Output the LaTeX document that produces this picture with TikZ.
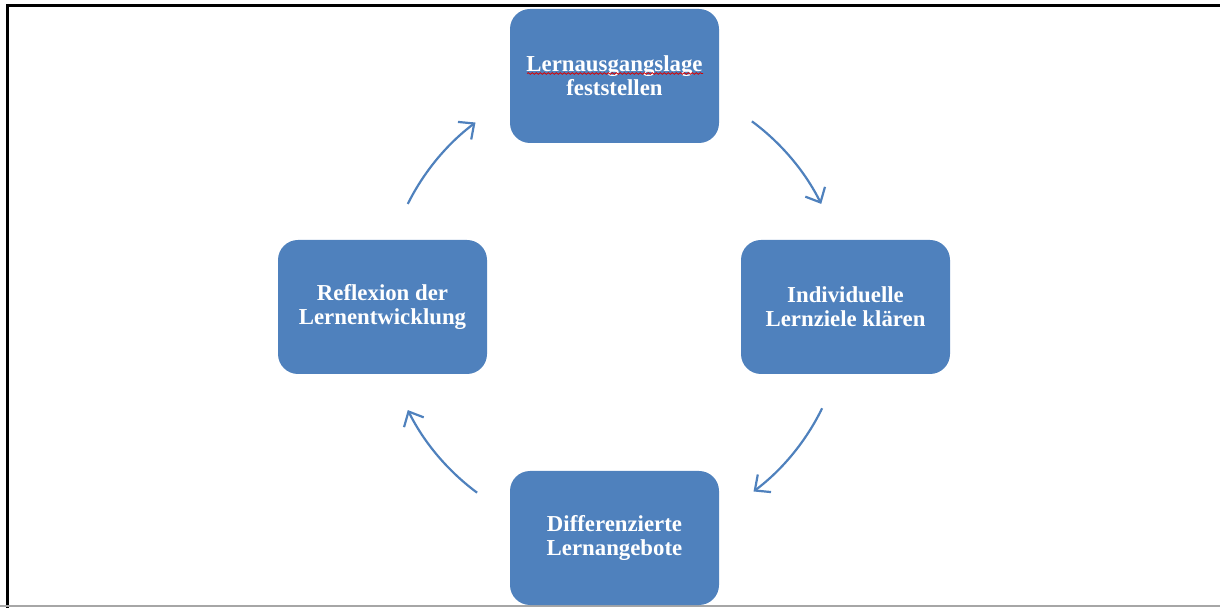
\documentclass[tikz,border=0pt]{standalone}
\usepackage{fontspec}
\setmainfont{Liberation Serif}
\usetikzlibrary{arrows.meta,decorations.pathmorphing}
\definecolor{boxblue}{HTML}{4F81BD}
\tikzset{
  stage/.style={fill=boxblue, rounded corners=10pt, minimum width=104.5pt,
    minimum height=67pt, align=center, text=white, inner sep=0pt,
    font=\fontsize{11.4}{12}\selectfont\bfseries},
  cyc/.style={draw=boxblue, line width=1.1pt, -{Straight Barb[length=6pt,width=11pt]}}
}
\begin{document}
\begin{tikzpicture}[x=0.5pt,y=-0.5pt]
\useasboundingbox (0,0) rectangle (1220,608);

% frame
\draw[line width=1.5pt] (7,608) -- (7,6) -- (1220,6);
\draw[gray!70,line width=1pt] (0,606) -- (1220,606);

\coordinate (mid) at (614.5,307);
\node[stage] (lage) at (614.5,76) {Lernausgangslage\\feststellen};
\node[stage] (ziele) at (845.5,307) {Individuelle\\Lernziele klären};
\node[stage] (angebote) at (614.5,538) {Differenzierte\\Lernangebote};
\node[stage] (reflexion) at (382.5,307) {Reflexion der\\Lernentwicklung};
\draw[red!85!black,line width=0.4pt,decorate,
  decoration={snake,amplitude=0.4pt,segment length=2pt}] (527,73.5) -- (703,73.5);

\draw[cyc] ([shift={(53.5:115.5pt)}]mid) arc[start angle=53.5,end angle=26.5,radius=115.5pt];
\draw[cyc] ([shift={(-26:115.5pt)}]mid) arc[start angle=-26,end angle=-53,radius=115.5pt];
\draw[cyc] ([shift={(-126.5:115.5pt)}]mid) arc[start angle=-126.5,end angle=-153.5,radius=115.5pt];
\draw[cyc] ([shift={(153.5:115.5pt)}]mid) arc[start angle=153.5,end angle=127,radius=115.5pt];
\end{tikzpicture}
\end{document}
